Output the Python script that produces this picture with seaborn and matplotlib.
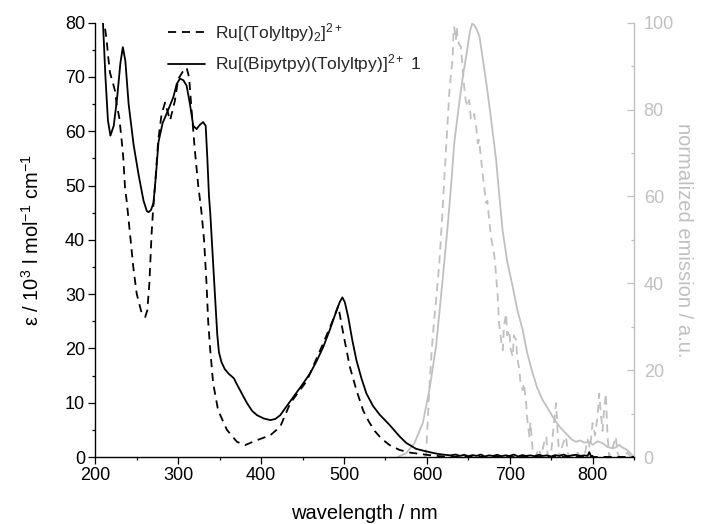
import numpy as np
import pandas as pd
import matplotlib
matplotlib.use("Agg")
import matplotlib.pyplot as plt
from matplotlib.ticker import MultipleLocator
import seaborn as sns

# Absorption spectrum of Ru[(Bipytpy)(Tolyltpy)]2+ (solid black)
abs_bipy_nm = [205, 209, 212, 215, 218, 222, 226, 230, 233, 236, 240, 246, 252, 258,
               262, 264, 267, 270, 273, 276, 281, 286, 290, 294, 298, 302, 306, 310,
               314, 318, 322, 326, 330, 333, 335, 337, 338.5, 341.5, 344.5, 347, 349,
               352, 356, 361, 367, 372, 378, 383, 389, 395, 403, 411, 417, 423, 430,
               439, 449, 459, 467, 475, 483, 491, 495, 498, 501, 505, 510, 515, 521,
               527, 535, 543, 555, 567, 575, 587, 600, 614, 628, 635, 640, 645, 650,
               655, 660, 665, 670, 675, 680, 685, 690, 695, 700, 705, 710, 715, 720,
               725, 730, 735, 740, 745, 750, 755, 760, 765, 770, 775, 780, 785, 790,
               794, 796, 798, 800]
abs_bipy_eps = [88, 80, 70, 62, 59.2, 61, 66, 72.5, 75.5, 73, 65, 57.5, 52, 47.2,
                45.3, 45.1, 45.5, 46.8, 52, 58, 61.5, 63.3, 64.8, 66.3, 68.7, 69.7, 69.4, 68.4,
                65, 61, 60.4, 61.2, 61.7, 61, 55, 48, 45, 37, 29, 22.5, 19.3,
                17.5, 16.2, 15.3, 14.5, 13, 11.3, 9.9, 8.5, 7.7, 7.1, 6.8, 7.0, 7.7, 9.2,
                11.1, 13.2, 15.4, 17.7, 20.3, 23.5, 27, 28.6, 29.4, 28.5, 25.8, 21.5, 17.8, 14.5,
                11.7, 9.4, 7.8, 5.9, 3.8, 2.6, 1.5, 1.0, 0.55, 0.3, 0.45, 0.2, 0.4, 0.15,
                0.35, 0.2, 0.45, 0.1, 0.3, 0.2, 0.4, 0.15, 0.3, 0.2, 0.45, 0.1, 0.35, 0.2,
                0.3, 0.15, 0.4, 0.2, 0.3, 0.1, 0.35, 0.2, 0.45, 0.15, 0.3, 0.4, 0.2, 0.3,
                0.2, 0.9, 0.2, 0.2]

# Absorption spectrum of Ru[(Tolyltpy)2]2+ (dashed black)
abs_toly_nm = [209, 211.5, 213.5, 215.4, 217.5, 223.5, 225.5, 228.7, 231.6, 233.5, 235.6,
               237.6, 241.6, 245.6, 249.7, 255.7, 260, 262.5, 265, 267.7, 269.7, 271.7,
               275.7, 279.8, 284, 290, 295.8, 299.8, 305.8, 310, 313, 316, 320, 324,
               328, 331, 334, 336, 338.5, 342, 348, 358.6, 370.7, 380.7, 394.8, 411,
               423, 435, 455, 475, 486, 493, 499, 507, 515, 523, 530, 537, 545, 555,
               567, 580, 600, 615, 630, 700, 850]
abs_toly_eps = [84, 79, 76.7, 73.6, 70.8, 67.5, 65, 62.5, 58.3, 55.2, 49.7,
                47.2, 41.2, 35, 30.1, 26.5, 25.8, 27, 31.9, 41.1, 46, 49.7,
                58.3, 63.2, 65.3, 62, 65.6, 69.6, 71.1, 71.7, 69.9, 63.8, 56.4, 50,
                45, 40, 32, 25, 19.7, 13.6, 8.6, 5, 2.8, 2.2, 3.1, 4,
                5.6, 9.9, 14, 21, 25, 27.8, 22.8, 16.6, 12.3, 8.6, 6.5, 4.8, 3.4, 2.2,
                1.3, 0.8, 0.4, 0.15, 0.05, 0, 0]

# Normalized emission of Ru[(Bipytpy)(Tolyltpy)]2+ (solid grey)
em_bipy_nm = [565, 575, 585, 595, 603, 611, 619, 625, 629, 633, 638, 643.4, 648, 652,
              654.7, 657, 660, 663.5, 668, 673.5, 678, 683.6, 687, 691.5, 697, 703.6,
              709, 715.7, 721, 727.7, 733, 739.8, 745, 751.8, 758, 763.9, 770, 775,
              780, 785, 790, 796, 800, 806, 812, 818, 824, 828, 832, 836, 840, 844,
              847, 850]
em_bipy_int = [0, 0.9, 3.2, 7.8, 15.4, 25.4, 40.8, 53, 62, 72.2, 80, 87.6, 93, 98,
               99.8, 99.5, 98.5, 96.8, 91, 83.7, 77, 68.4, 61, 52, 45, 39.2,
               34, 29.2, 24, 19.3, 16, 13.1, 11.5, 9.3, 7.5, 6.2, 5, 4,
               3.5, 3.8, 3.3, 3.5, 2.8, 3.6, 3.2, 2.3, 2, 2.2, 2.8, 2.2, 1.8, 1.2,
               0.6, 0]

# Normalized emission of Ru[(Tolyltpy)2]2+ (dashed grey)
em_toly_nm = [597, 599, 601, 603, 606, 609, 612, 615, 617, 619, 621, 623, 625, 627,
              629, 631, 632, 633, 635, 636, 637, 639, 641, 643, 645, 647, 649, 651,
              653, 655, 657, 659.5, 661.5, 663, 665.5, 668, 671.5, 673, 675.5, 678,
              681.6, 683, 685.5, 687, 689.6, 691.6, 693, 695.6, 697, 699.6, 701,
              703.6, 705, 707.7, 709, 711.7, 713, 715.7, 717, 719.8, 721, 723.8, 725,
              727.7, 731, 735, 738, 741, 744, 746, 750, 753, 756, 758, 760, 764, 768,
              770, 772, 778, 782, 786, 790, 794, 797, 800, 803, 806, 808, 810, 812,
              814, 816, 818, 820, 824, 828, 830, 832, 838, 842, 846, 850]
em_toly_int = [0, 0.5, 8, 16, 25, 32, 38, 44.6, 50.7, 57, 64, 70.7, 77, 83.7,
               88, 91.4, 97, 99, 96, 99, 96, 95, 94.5, 90, 85.3, 82, 80.7, 82.2,
               78, 77.6, 79, 76, 72.2, 73, 68.4, 64, 58.5, 59, 53.9, 50,
               46.1, 43, 36.9, 31, 26.9, 24.6, 30, 33, 28, 29.2, 25,
               23.1, 28, 26.9, 23, 20, 17, 15.4, 17, 12.4, 9, 4.7, 8,
               1.6, 0, 2, 0, 3, 4.7, 0, 1, 7, 12.4, 5, 0, 3, 4.7,
               1, 0, 0, 1, 0, 0, 4, 2, 7.8, 5, 9.3, 14.6, 10, 6,
               11, 14.6, 5, 0, 2, 4.7, 1, 0, 0, 1, 0, 0]

x_ticks = [200, 300, 400, 500, 600, 700, 800]
left_ticks = [0, 10, 20, 30, 40, 50, 60, 70, 80]
right_ticks = [0, 20, 40, 60, 80, 100]

legend_labels = [r"Ru[(Tolyltpy)$_2$]$^{2+}$",
                 r"Ru[(Bipytpy)(Tolyltpy)]$^{2+}$ 1"]

GREY = "#c0c0c0"

sns.set_theme(style="ticks")
plt.rcParams["font.family"] = ["Liberation Sans", "DejaVu Sans"]
plt.rcParams["mathtext.fontset"] = "custom"
plt.rcParams["mathtext.rm"] = "Liberation Sans"
plt.rcParams["mathtext.it"] = "Liberation Sans:italic"
plt.rcParams["mathtext.bf"] = "Liberation Sans:bold"

fig = plt.figure(figsize=(7.01, 5.24), dpi=100)
fig.subplots_adjust(left=95.5 / 701, right=634 / 701,
                    bottom=(524 - 457) / 524, top=(524 - 22.7) / 524)
ax = fig.add_subplot(111)
ax2 = ax.twinx()

df_toly = pd.DataFrame({"nm": abs_toly_nm, "eps": abs_toly_eps})
df_bipy = pd.DataFrame({"nm": abs_bipy_nm, "eps": abs_bipy_eps})
df_em_toly = pd.DataFrame({"nm": em_toly_nm, "em": em_toly_int})
df_em_bipy = pd.DataFrame({"nm": em_bipy_nm, "em": em_bipy_int})

dash = (0, (4.5, 3.2))

# emission on the secondary (grey) axis
sns.lineplot(data=df_em_bipy, x="nm", y="em", ax=ax2, color=GREY, lw=1.3,
             sort=False, estimator=None)
sns.lineplot(data=df_em_toly, x="nm", y="em", ax=ax2, color=GREY, lw=1.3,
             linestyle=dash, sort=False, estimator=None)

# absorption on the primary axis
sns.lineplot(data=df_toly, x="nm", y="eps", ax=ax, color="black", lw=1.3,
             linestyle=dash, sort=False, estimator=None, label=legend_labels[0])
sns.lineplot(data=df_bipy, x="nm", y="eps", ax=ax, color="black", lw=1.3,
             sort=False, estimator=None, label=legend_labels[1])

# draw the absorption axis above the emission axis
ax.set_zorder(ax2.get_zorder() + 1)
ax.patch.set_visible(False)

ax.set_xlim(200, 850)
ax.set_ylim(0, 80)
ax2.set_ylim(0, 100)

ax.set_xticks(x_ticks)
ax.xaxis.set_minor_locator(MultipleLocator(50))
ax.set_yticks(left_ticks)
ax.yaxis.set_minor_locator(MultipleLocator(5))
ax2.set_yticks(right_ticks)
ax2.yaxis.set_minor_locator(MultipleLocator(10))

tick_fs = 13
ax.tick_params(axis="both", which="major", direction="out", length=5, width=0.9,
               color="black", labelsize=tick_fs, labelcolor="black", pad=2.5)
ax.tick_params(axis="both", which="minor", direction="out", length=2.5, width=0.9,
               color="black")
ax2.tick_params(axis="y", which="major", direction="in", length=5, width=0.9,
                color=GREY, labelsize=tick_fs, labelcolor=GREY, pad=7)
ax2.tick_params(axis="y", which="minor", direction="in", length=2.5, width=0.9,
                color=GREY)

for a in (ax, ax2):
    a.spines["top"].set_visible(False)
ax.spines["right"].set_visible(False)
ax2.spines["left"].set_visible(False)
ax2.spines["bottom"].set_visible(False)
ax2.spines["right"].set_color(GREY)
ax.spines["left"].set_color("black")
ax.spines["bottom"].set_color("black")
for s in ("left", "bottom"):
    ax.spines[s].set_linewidth(1.0)
ax2.spines["right"].set_linewidth(1.0)

label_fs = 14.5
ax.set_xlabel("wavelength / nm", fontsize=label_fs, color="black")
ax.set_ylabel(r"ε / 10$^3$ l mol$^{-1}$ cm$^{-1}$", fontsize=label_fs, color="black")
ax2.set_ylabel("normalized emission / a.u.", fontsize=label_fs, color=GREY,
               rotation=270)
ax.xaxis.set_label_coords(0.5, -0.108)
ax.yaxis.set_label_coords(-0.098, 0.5)
ax2.yaxis.set_label_coords(1.074, 0.5)
ax2.yaxis.label.set_va("bottom")

leg = ax.legend(loc="upper left", bbox_to_anchor=(0.135, 1.004), frameon=False,
                fontsize=12.5, handlelength=2.1, handletextpad=0.6,
                borderpad=0, borderaxespad=0, labelspacing=0.5)

fig.savefig("out.png", dpi=100)
